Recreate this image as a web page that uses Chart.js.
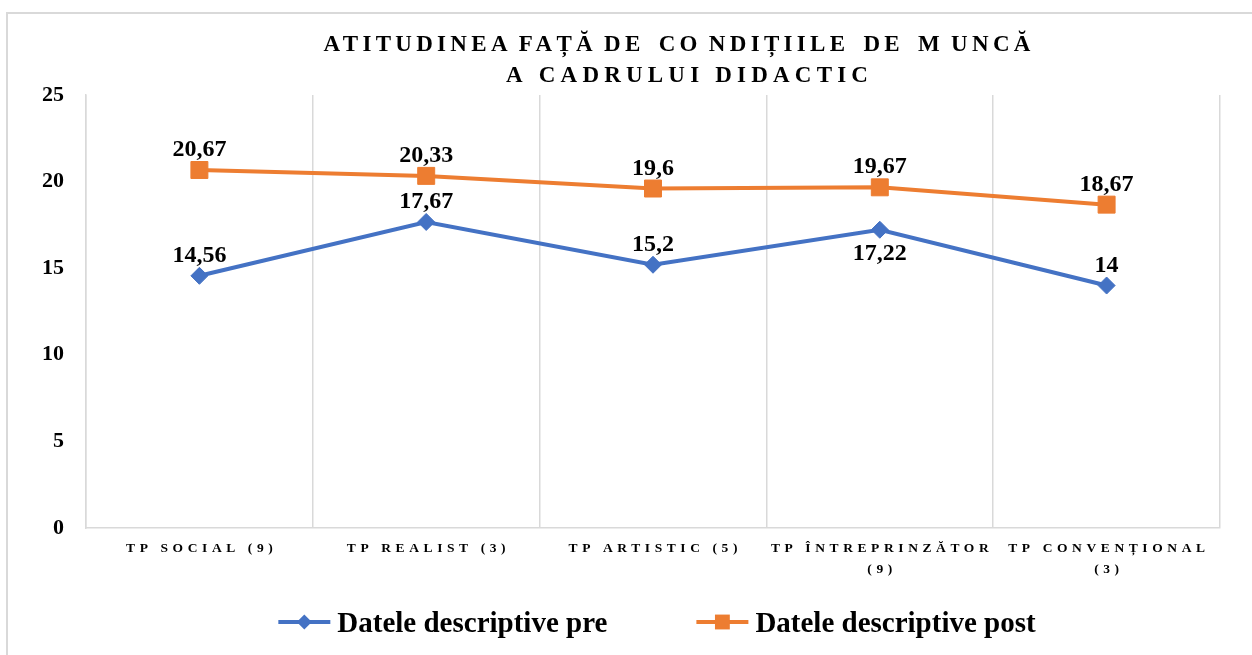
<!DOCTYPE html>
<html>
<head>
<meta charset="utf-8">
<script src="https://cdn.jsdelivr.net/npm/chart.js@4.4.1/dist/chart.umd.min.js"></script>
<style>
  html, body { margin: 0; padding: 0; background: #fff; }
</style>
</head>
<body>
<canvas id="attitudeCanvas" width="1252" height="655"></canvas>
<script>
const titleLines = ['ATITUDINEA FAȚĂ DE  CO NDIȚIILE  DE  M UNCĂ', 'A CADRULUI DIDACTIC'];
const categories = [
  ['TP SOCIAL (9)'],
  ['TP REALIST (3)'],
  ['TP ARTISTIC (5)'],
  ['TP ÎNTREPRINZĂTOR', '(9)'],
  ['TP CONVENȚIONAL', '(3)']
];
const preValues = [14.56, 17.67, 15.2, 17.22, 14];
const postValues = [20.67, 20.33, 19.6, 19.67, 18.67];
const preLabelBelow = [false, false, false, true, false];
const seriesNames = ['Datele descriptive pre', 'Datele descriptive post'];

const serif = '"Liberation Serif", "Times New Roman", serif';
const BLUE = '#4472C4';
const ORANGE = '#ED7D31';
const FRAME = '#d9d9d9';

const fmt = v => v.toString().replace('.', ',');

// text with letter spacing, centred on cx
function spacedText(ctx, text, cx, y, spacing, wordSpacing = 0) {
  ctx.letterSpacing = spacing + 'px';
  ctx.wordSpacing = wordSpacing + 'px';
  const w = ctx.measureText(text).width - spacing;
  ctx.textAlign = 'left';
  ctx.fillText(text, cx - w / 2, y);
  ctx.letterSpacing = '0px';
  ctx.wordSpacing = '0px';
}

function drawMarker(ctx, style, radius, x, y) {
  ctx.beginPath();
  if (style === 'rectRot') {
    ctx.moveTo(x - radius, y);
    ctx.lineTo(x, y - radius);
    ctx.lineTo(x + radius, y);
    ctx.lineTo(x, y + radius);
    ctx.closePath();
  } else {
    const s = Math.SQRT1_2 * radius;
    ctx.rect(x - s, y - s, 2 * s, 2 * s);
  }
  ctx.fill();
}

const decorations = {
  id: 'decorations',
  beforeDraw(chart) {
    const ctx = chart.ctx;
    ctx.save();
    ctx.fillStyle = '#fff';
    ctx.fillRect(0, 0, chart.width, chart.height);
    ctx.strokeStyle = FRAME;
    ctx.lineWidth = 2;
    ctx.strokeRect(7, 13, chart.width + 20, chart.height + 20);
    ctx.restore();
  },
  afterDatasetsDraw(chart) {
    const ctx = chart.ctx;
    ctx.save();
    ctx.fillStyle = '#000';
    ctx.font = `bold 24px ${serif}`;
    ctx.textAlign = 'center';
    ctx.textBaseline = 'alphabetic';
    chart.data.datasets.forEach((ds, i) => {
      chart.getDatasetMeta(i).data.forEach((pt, j) => {
        const below = i === 0 && preLabelBelow[j];
        ctx.fillText(fmt(ds.data[j]), pt.x, below ? pt.y + 30 : pt.y - 14);
      });
    });
    ctx.restore();
  },
  afterDraw(chart) {
    const ctx = chart.ctx;
    const xScale = chart.scales.x;
    ctx.save();
    ctx.fillStyle = '#000';
    ctx.textBaseline = 'alphabetic';

    // title
    ctx.font = `bold 23px ${serif}`;
    spacedText(ctx, titleLines[0], 677, 51, 4.3, -3);
    spacedText(ctx, titleLines[1], 687, 82, 5.2);

    // category labels
    ctx.font = `bold 13.5px ${serif}`;
    categories.forEach((lines, i) => {
      const cx = xScale.getPixelForValue(i);
      lines.forEach((line, k) => {
        spacedText(ctx, line, cx, 552 + k * 21, 4.6);
      });
    });

    // legend
    ctx.font = `bold 29px ${serif}`;
    const markW = 52, textGap = 7, itemGap = 89;
    const items = chart.data.datasets.map(ds => ({
      ds, w: markW + textGap + ctx.measureText(ds.label).width
    }));
    const total = items.reduce((s, it) => s + it.w, 0) + itemGap * (items.length - 1);
    let x = 657 - total / 2;
    const y = 622;
    items.forEach(({ds, w}) => {
      ctx.strokeStyle = ds.borderColor;
      ctx.lineWidth = 4;
      ctx.beginPath();
      ctx.moveTo(x, y);
      ctx.lineTo(x + markW, y);
      ctx.stroke();
      ctx.fillStyle = ds.borderColor;
      drawMarker(ctx, ds.pointStyle, ds.pointStyle === 'rect' ? 10.5 : 7.5, x + markW / 2, y);
      ctx.fillStyle = '#000';
      ctx.textAlign = 'left';
      ctx.fillText(ds.label, x + markW + textGap, 632);
      x += w + itemGap;
    });
    ctx.restore();
  }
};

new Chart(document.getElementById('attitudeCanvas'), {
  type: 'line',
  data: {
    labels: categories,
    datasets: [
      {
        label: seriesNames[0],
        data: preValues,
        borderColor: BLUE,
        backgroundColor: BLUE,
        borderWidth: 4,
        pointStyle: 'rectRot',
        pointRadius: 8.5,
        pointBorderWidth: 1,
        tension: 0,
        clip: false
      },
      {
        label: seriesNames[1],
        data: postValues,
        borderColor: ORANGE,
        backgroundColor: ORANGE,
        borderWidth: 4,
        pointStyle: 'rect',
        pointRadius: 12,
        pointBorderWidth: 1,
        tension: 0,
        clip: false
      }
    ]
  },
  options: {
    responsive: false,
    animation: false,
    devicePixelRatio: 1,
    layout: { padding: { top: 95, left: 0, right: 32, bottom: 127 } },
    plugins: {
      legend: { display: false },
      title: { display: false },
      tooltip: { enabled: false }
    },
    scales: {
      x: {
        type: 'category',
        offset: true,
        grid: { display: true, offset: true, color: FRAME, lineWidth: 1.5, drawTicks: false },
        border: { display: true, color: FRAME, width: 1.5 },
        ticks: { display: false },
        afterFit(scale) { scale.height = 0; }
      },
      y: {
        min: 0,
        max: 25,
        ticks: {
          stepSize: 5,
          padding: 22,
          color: '#000',
          font: { family: serif, size: 22, weight: 'bold' }
        },
        grid: { display: false, drawTicks: false },
        border: { display: true, color: FRAME, width: 1.5 },
        afterFit(scale) { scale.width = 86; }
      }
    }
  },
  plugins: [decorations]
});
</script>
</body>
</html>
